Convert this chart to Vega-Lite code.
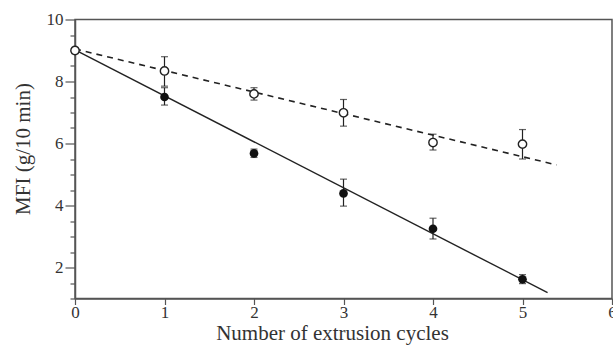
{
  "$schema": "https://vega.github.io/schema/vega-lite/v6.json",
  "width": 537,
  "height": 279,
  "autosize": {"type": "none"},
  "padding": {"left": 75, "top": 19.5, "right": 1, "bottom": 46.5},
  "background": "white",
  "config": {
    "view": {"stroke": "#555", "strokeWidth": 1.5},
    "font": "Liberation Serif",
    "axis": {
      "labelFont": "Liberation Serif",
      "titleFont": "Liberation Serif",
      "labelColor": "#333",
      "titleColor": "#333",
      "domainColor": "#555",
      "tickColor": "#555",
      "domainWidth": 1.5,
      "tickWidth": 1.2,
      "grid": false,
      "titleFontWeight": "normal"
    }
  },
  "datasets": {
    "points": [
      {"series": "open", "cycles": 0, "mfi": 9.0, "lo": 8.9, "hi": 9.1},
      {"series": "open", "cycles": 1, "mfi": 8.34, "lo": 7.85, "hi": 8.8},
      {"series": "open", "cycles": 2, "mfi": 7.6, "lo": 7.4, "hi": 7.8},
      {"series": "open", "cycles": 3, "mfi": 6.99, "lo": 6.56, "hi": 7.42},
      {"series": "open", "cycles": 4, "mfi": 6.03, "lo": 5.79, "hi": 6.3},
      {"series": "open", "cycles": 5, "mfi": 5.98, "lo": 5.5, "hi": 6.45},
      {"series": "filled", "cycles": 1, "mfi": 7.5, "lo": 7.24, "hi": 7.8},
      {"series": "filled", "cycles": 2, "mfi": 5.68, "lo": 5.55, "hi": 5.82},
      {"series": "filled", "cycles": 3, "mfi": 4.39, "lo": 3.98, "hi": 4.85},
      {"series": "filled", "cycles": 4, "mfi": 3.25, "lo": 2.92, "hi": 3.59},
      {"series": "filled", "cycles": 5, "mfi": 1.62, "lo": 1.48, "hi": 1.77}
    ],
    "fits": [
      {"series": "open", "cycles": 0, "mfi": 9.05},
      {"series": "open", "cycles": 5.38, "mfi": 5.31},
      {"series": "filled", "cycles": 0, "mfi": 9.02},
      {"series": "filled", "cycles": 5.28, "mfi": 1.19}
    ]
  },
  "encoding": {
    "x": {
      "field": "cycles", "type": "quantitative",
      "scale": {"domain": [0, 6], "nice": false},
      "axis": {
        "title": "Number of extrusion cycles",
        "values": [0, 1, 2, 3, 4, 5, 6],
        "format": "d",
        "labelFontSize": 17,
        "titleFontSize": 21,
        "titleX": 257,
        "titleY": 35,
        "titleBaseline": "middle",
        "tickSize": 6,
        "labelPadding": 0,
        "labelFlush": false
      }
    },
    "y": {
      "field": "mfi", "type": "quantitative",
      "scale": {"domain": [1, 10], "nice": false, "zero": false},
      "axis": {
        "title": "MFI (g/10 min)",
        "values": [1, 1.5, 2, 2.5, 3, 3.5, 4, 4.5, 5, 5.5, 6, 6.5, 7, 7.5, 8, 8.5, 9, 9.5, 10],
        "labelExpr": "datum.value % 2 === 0 ? format(datum.value, 'd') : ''",
        "tickSize": {"condition": {"test": "datum.value % 2 === 0", "value": 10}, "value": 5},
        "labelFontSize": 17,
        "titleFontSize": 21,
        "titleX": -52,
        "titleY": 129,
        "titleBaseline": "middle",
        "labelPadding": 2,
        "labelFlush": false
      }
    }
  },
  "layer": [
    {
      "data": {"name": "fits"},
      "transform": [{"filter": "datum.series === 'filled'"}],
      "mark": {"type": "line", "color": "#222", "strokeWidth": 1.4}
    },
    {
      "data": {"name": "fits"},
      "transform": [{"filter": "datum.series === 'open'"}],
      "mark": {"type": "line", "color": "#222", "strokeWidth": 1.6, "strokeDash": [6, 5]}
    },
    {
      "data": {"name": "points"},
      "mark": {"type": "errorbar", "ticks": {"size": 7, "color": "#222"}, "color": "#222", "thickness": 1.2},
      "encoding": {
        "y": {"field": "lo", "type": "quantitative"},
        "y2": {"field": "hi"}
      }
    },
    {
      "data": {"name": "points"},
      "transform": [{"filter": "datum.series === 'open'"}],
      "mark": {"type": "point", "shape": "circle", "filled": true, "fill": "white", "stroke": "#222", "strokeWidth": 1.4, "size": 70, "opacity": 1}
    },
    {
      "data": {"name": "points"},
      "transform": [{"filter": "datum.series === 'filled'"}],
      "mark": {"type": "point", "shape": "circle", "filled": true, "color": "#111", "size": 75, "opacity": 1}
    }
  ]
}
